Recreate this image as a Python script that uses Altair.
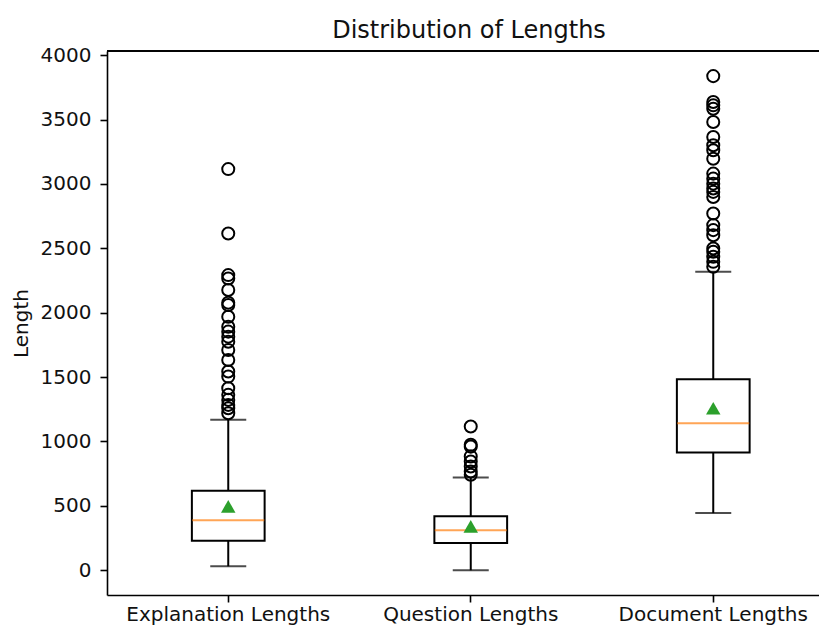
import altair as alt
import pandas as pd

categories = ["Explanation Lengths", "Question Lengths", "Document Lengths"]
whisker_low = [31, 0, 444]
q1 = [230, 212, 915]
median = [388, 310, 1142]
q3 = [617, 419, 1483]
whisker_high = [1168, 721, 2318]
means = [496, 341, 1258]

outliers_explanation = [3115, 2615, 2292, 2266, 2176, 2078, 2060, 1969, 1891, 1853,
                        1814, 1775, 1711, 1633, 1543, 1504, 1413, 1362, 1323, 1284,
                        1258, 1219]
outliers_question = [1116, 974, 960, 884, 845, 806, 767, 742]
outliers_document = [3837, 3636, 3610, 3584, 3481, 3364, 3300, 3261, 3196, 3080,
                     3041, 3002, 2964, 2938, 2899, 2770, 2680, 2641, 2602, 2499,
                     2473, 2434, 2395, 2357]

y_ticks = [0, 500, 1000, 1500, 2000, 2500, 3000, 3500, 4000]

stats = pd.DataFrame({
    "cat": categories, "lo": whisker_low, "q1": q1, "med": median,
    "q3": q3, "hi": whisker_high, "mean": means,
})
out_rows = []
for c, vals in zip(categories, [outliers_explanation, outliers_question, outliers_document]):
    for v in vals:
        out_rows.append({"cat": c, "value": v})
outs = pd.DataFrame(out_rows)

W = 712
H = 544
FONT = "DejaVu Sans"
LW = 2

x_enc = alt.X("cat:N", sort=categories,
              scale=alt.Scale(domain=categories, range=[0, 727.5],
                              paddingInner=0.7, paddingOuter=0.35),
              axis=alt.Axis(title=None, labelAngle=0, labelFontSize=20, labelFont=FONT,
                            labelColor="#111", tickSize=7, tickWidth=1.6, tickColor="black",
                            domainColor="black", domainWidth=1.6, labelPadding=2,
                            labelLimit=0, grid=False))
y_scale = alt.Scale(domain=[-192, 4032], nice=False, zero=False)
y_axis = alt.Axis(title="Length", values=y_ticks, format="d", grid=False, labelFontSize=20,
                  labelFont=FONT, labelColor="#111", tickSize=7, tickWidth=1.6,
                  tickColor="black", domainColor="black", domainWidth=1.6,
                  labelPadding=9, titleFontSize=20, titleFont=FONT, titleColor="#111",
                  titleFontWeight="normal", titleX=-86, titleY=H / 2,
                  titleAngle=-90, titleBaseline="middle", titleAlign="center")

base = alt.Chart(stats)

whisk_up = base.mark_rule(color="black", strokeWidth=LW).encode(
    x=x_enc, y=alt.Y("q3:Q", scale=y_scale, axis=y_axis), y2="hi:Q")
whisk_dn = base.mark_rule(color="black", strokeWidth=LW).encode(
    x=x_enc, y=alt.Y("lo:Q", scale=y_scale), y2="q1:Q")
box = base.mark_bar(fill="white", stroke="black", strokeWidth=LW).encode(
    x=x_enc, y=alt.Y("q1:Q", scale=y_scale), y2="q3:Q")
cap_hi = base.mark_tick(color="black", size=36, thickness=LW, orient="horizontal").encode(
    x=x_enc, y=alt.Y("hi:Q", scale=y_scale))
cap_lo = base.mark_tick(color="black", size=36, thickness=LW, orient="horizontal").encode(
    x=x_enc, y=alt.Y("lo:Q", scale=y_scale))
med = base.mark_tick(color="#ff7f0e", size=72, thickness=LW, orient="horizontal").encode(
    x=x_enc, y=alt.Y("med:Q", scale=y_scale))
mean_pt = base.mark_point(shape="triangle-up", filled=True, color="#2ca02c",
                          size=210, opacity=1).encode(
    x=x_enc, y=alt.Y("mean:Q", scale=y_scale))
out_pts = alt.Chart(outs).mark_point(shape="circle", filled=False, color="black",
                                     size=145, strokeWidth=2, opacity=1).encode(
    x=x_enc, y=alt.Y("value:Q", scale=y_scale))
top_spine = alt.Chart(stats).mark_rule(color="black", strokeWidth=1.6).encode(
    x=alt.value(0), x2=alt.value(W), y=alt.value(0))

chart = alt.layer(whisk_up, whisk_dn, box, cap_hi, cap_lo, med, out_pts, mean_pt,
                  top_spine).properties(
    width=W, height=H,
    title=alt.TitleParams("Distribution of Lengths", fontSize=24, font=FONT,
                          fontWeight="normal", color="#111", anchor="middle",
                          frame="group", dx=6, offset=-17, baseline="alphabetic"),
    autosize=alt.AutoSizeParams(type="none"),
    padding={"left": 99, "top": 43, "right": 0, "bottom": 32},
).configure_view(stroke=None)

chart.save("out.html", embed_options={"renderer": "svg", "actions": False})
